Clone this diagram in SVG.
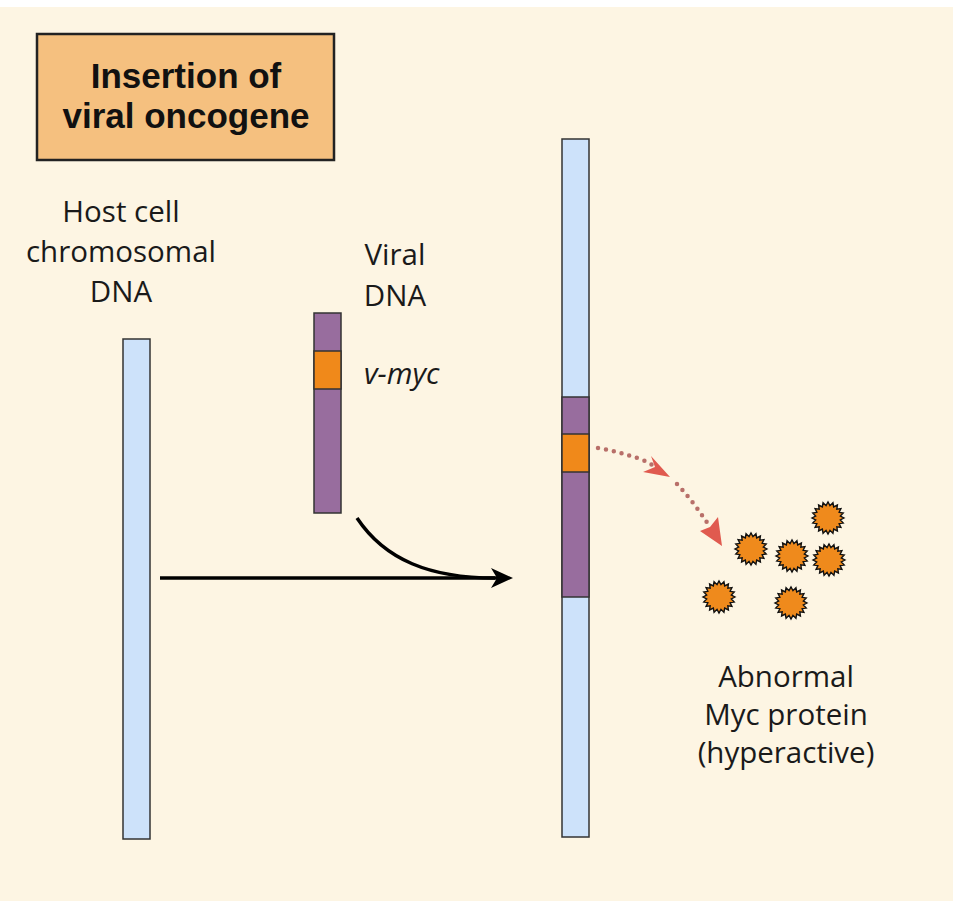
<svg xmlns="http://www.w3.org/2000/svg" xmlns:xlink="http://www.w3.org/1999/xlink" width="953" height="901" viewBox="0 0 953 901">
<style>
.lbl{font-family:"Open Sans","Liberation Sans",sans-serif;font-size:29.5px;fill:#1a1a1a;text-anchor:middle}
.title{font-family:"Liberation Sans",Arial,sans-serif;font-size:35px;font-weight:bold;fill:#111;text-anchor:middle}
.blue{fill:#cde2fa;stroke:#333;stroke-width:1.5}
.purple{fill:#986d9e;stroke:#333;stroke-width:1.5}
.orange{fill:#f0891a;stroke:#333;stroke-width:1.5}
.star{fill:#ef8a1c;stroke:#111;stroke-width:1.4}
</style>
<defs>
<polygon id="star" class="star" points="16,0 12.35,1.96 15.22,4.94 11.14,5.68 12.94,9.40 8.84,8.84 9.40,12.94 5.68,11.14 4.94,15.22 1.96,12.35 0,16 -1.96,12.35 -4.94,15.22 -5.68,11.14 -9.40,12.94 -8.84,8.84 -12.94,9.40 -11.14,5.68 -15.22,4.94 -12.35,1.96 -16,0 -12.35,-1.96 -15.22,-4.94 -11.14,-5.68 -12.94,-9.40 -8.84,-8.84 -9.40,-12.94 -5.68,-11.14 -4.94,-15.22 -1.96,-12.35 0,-16 1.96,-12.35 4.94,-15.22 5.68,-11.14 9.40,-12.94 8.84,-8.84 12.94,-9.40 11.14,-5.68 15.22,-4.94 12.35,-1.96"/>
</defs>
<rect x="0" y="0" width="953" height="901" fill="#ffffff"/>
<rect x="0" y="7" width="953" height="894" fill="#fdf5e3"/>

<g id="title">
<rect x="37" y="34" width="297" height="126" fill="#f5c07f" stroke="#222" stroke-width="2.5"/>
<text class="title" x="186" y="88">Insertion of</text>
<text class="title" x="186" y="128">viral oncogene</text>
</g>

<g id="host-dna">
<rect class="blue" x="123" y="339" width="27" height="500"/>
<text class="lbl" x="121" y="222">Host cell</text>
<text class="lbl" x="121" y="262">chromosomal</text>
<text class="lbl" x="121" y="302">DNA</text>
</g>

<g id="viral-dna">
<rect class="purple" x="314" y="313" width="27" height="200"/>
<rect class="orange" x="314" y="351" width="27" height="38"/>
<text class="lbl" x="395" y="265">Viral</text>
<text class="lbl" x="395" y="306">DNA</text>
<text class="lbl" x="364" y="384" style="font-style:italic;text-anchor:start">v-myc</text>
</g>

<g id="recombined-dna">
<rect class="blue" x="562" y="139" width="27" height="698"/>
<rect class="purple" x="562" y="397" width="27" height="200"/>
<rect class="orange" x="562" y="434" width="27" height="38"/>
</g>

<g id="myc-protein">
<use xlink:href="#star" x="751" y="549"/>
<use xlink:href="#star" x="792" y="556"/>
<use xlink:href="#star" x="829" y="560"/>
<use xlink:href="#star" x="828" y="518"/>
<use xlink:href="#star" x="719" y="597"/>
<use xlink:href="#star" x="791" y="603"/>
<text class="lbl" x="786" y="687">Abnormal</text>
<text class="lbl" x="786" y="725">Myc protein</text>
<text class="lbl" x="786" y="763">(hyperactive)</text>
</g>

<g id="connectors">
<path d="M160,578 H500" fill="none" stroke="#000" stroke-width="3.5"/>
<path d="M357,518 C385,560 430,578 495,578" fill="none" stroke="#000" stroke-width="3.5"/>
<polygon points="513,578 491,568 497,578 491,588" fill="#000"/>
<path d="M598,448 C630,454 650,462 652,465 M677,484 C690,498 700,512 708,524" fill="none" stroke="#b86f69" stroke-width="4.5" stroke-linecap="round" stroke-dasharray="0 8"/>
<polygon points="670,477 651,456 655,467 643,472" fill="#e05a4f"/>
<polygon points="722,546 718,517 710,527 700,531" fill="#e05a4f"/>
</g>
</svg>
